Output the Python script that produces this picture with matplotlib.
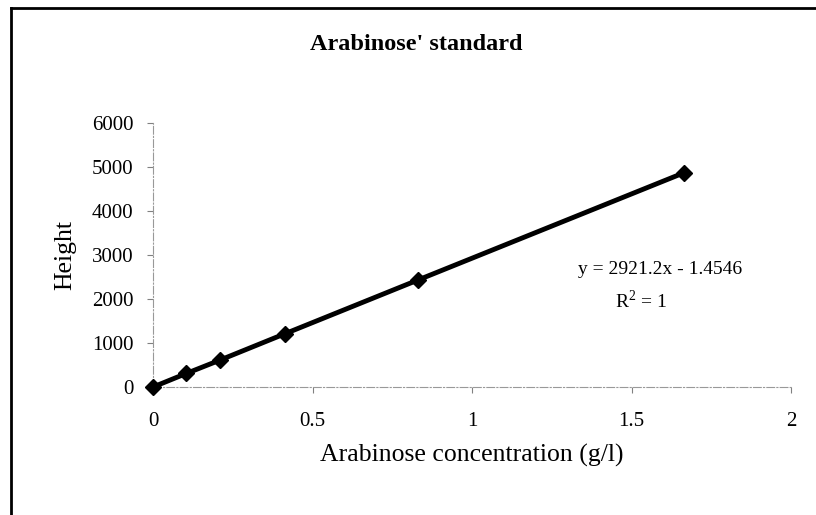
import numpy as np
import matplotlib
matplotlib.use("Agg")
import matplotlib.pyplot as plt
from matplotlib.lines import Line2D

# Arabinose standard curve
conc = [0, 0.105, 0.21, 0.415, 0.83, 1.665]
height = [0, 310, 612, 1215, 2430, 4870]

x_ticks = [0, 0.5, 1, 1.5, 2]
x_tick_labels = ["0", "0.5", "1", "1.5", "2"]
y_ticks = [0, 1000, 2000, 3000, 4000, 5000, 6000]

title = "Arabinose' standard"
x_label = "Arabinose concentration (g/l)"
y_label = "Height"
eq_text = "y = 2921.2x - 1.4546"
r2_text = "R$^2$ = 1"

plt.rcParams["font.family"] = ["Liberation Serif", "DejaVu Serif"]
plt.rcParams["mathtext.fontset"] = "custom"
plt.rcParams["mathtext.rm"] = "Liberation Serif"

fig = plt.figure(figsize=(8.16, 5.15), dpi=100)
ax = fig.add_axes([0.1875, 0.2485, 0.7819, 0.5127])

ax.plot(conc, height, color="black", linewidth=3.5, marker="D",
        markersize=8, markerfacecolor="black", markeredgecolor="black",
        clip_on=False, zorder=3)

ax.set_xlim(0, 2)
ax.set_ylim(0, 6000)
ax.set_xticks(x_ticks)
ax.set_xticklabels(x_tick_labels)
ax.set_yticks(y_ticks)

for side in ("top", "right"):
    ax.spines[side].set_visible(False)
for side in ("left", "bottom"):
    ax.spines[side].set_color("0.6")
    ax.spines[side].set_linewidth(0.8)
    ax.spines[side].set_linestyle((0, (7, 2, 1, 2)))

ax.tick_params(axis="both", direction="out", length=4, width=0.8,
               color="0.5", labelsize=15)
ax.tick_params(axis="x", pad=14)
ax.tick_params(axis="y", pad=10)

fig.text(416 / 816, 1 - 45 / 515, title, fontsize=17.5, fontweight="bold",
         ha="center", va="center")
ax.set_xlabel(x_label, fontsize=18.5, va="center")
ax.xaxis.set_label_coords(0.5, -0.258)
ax.set_ylabel(y_label, fontsize=18.5, va="center")
ax.yaxis.set_label_coords(-0.138, 0.5)

ax.text(1.59, 2660, eq_text, fontsize=14, ha="center", va="center")
ax.text(1.53, 1950, r2_text, fontsize=14, ha="center", va="center")

# frame of the scanned figure (left and top edges only)
fig.add_artist(Line2D([11 / 816, 11 / 816], [0, 1 - 8 / 515],
                      transform=fig.transFigure, color="black", linewidth=2))
fig.add_artist(Line2D([11 / 816, 1], [1 - 8 / 515, 1 - 8 / 515],
                      transform=fig.transFigure, color="black", linewidth=2))

fig.savefig("out.png", dpi=100)
